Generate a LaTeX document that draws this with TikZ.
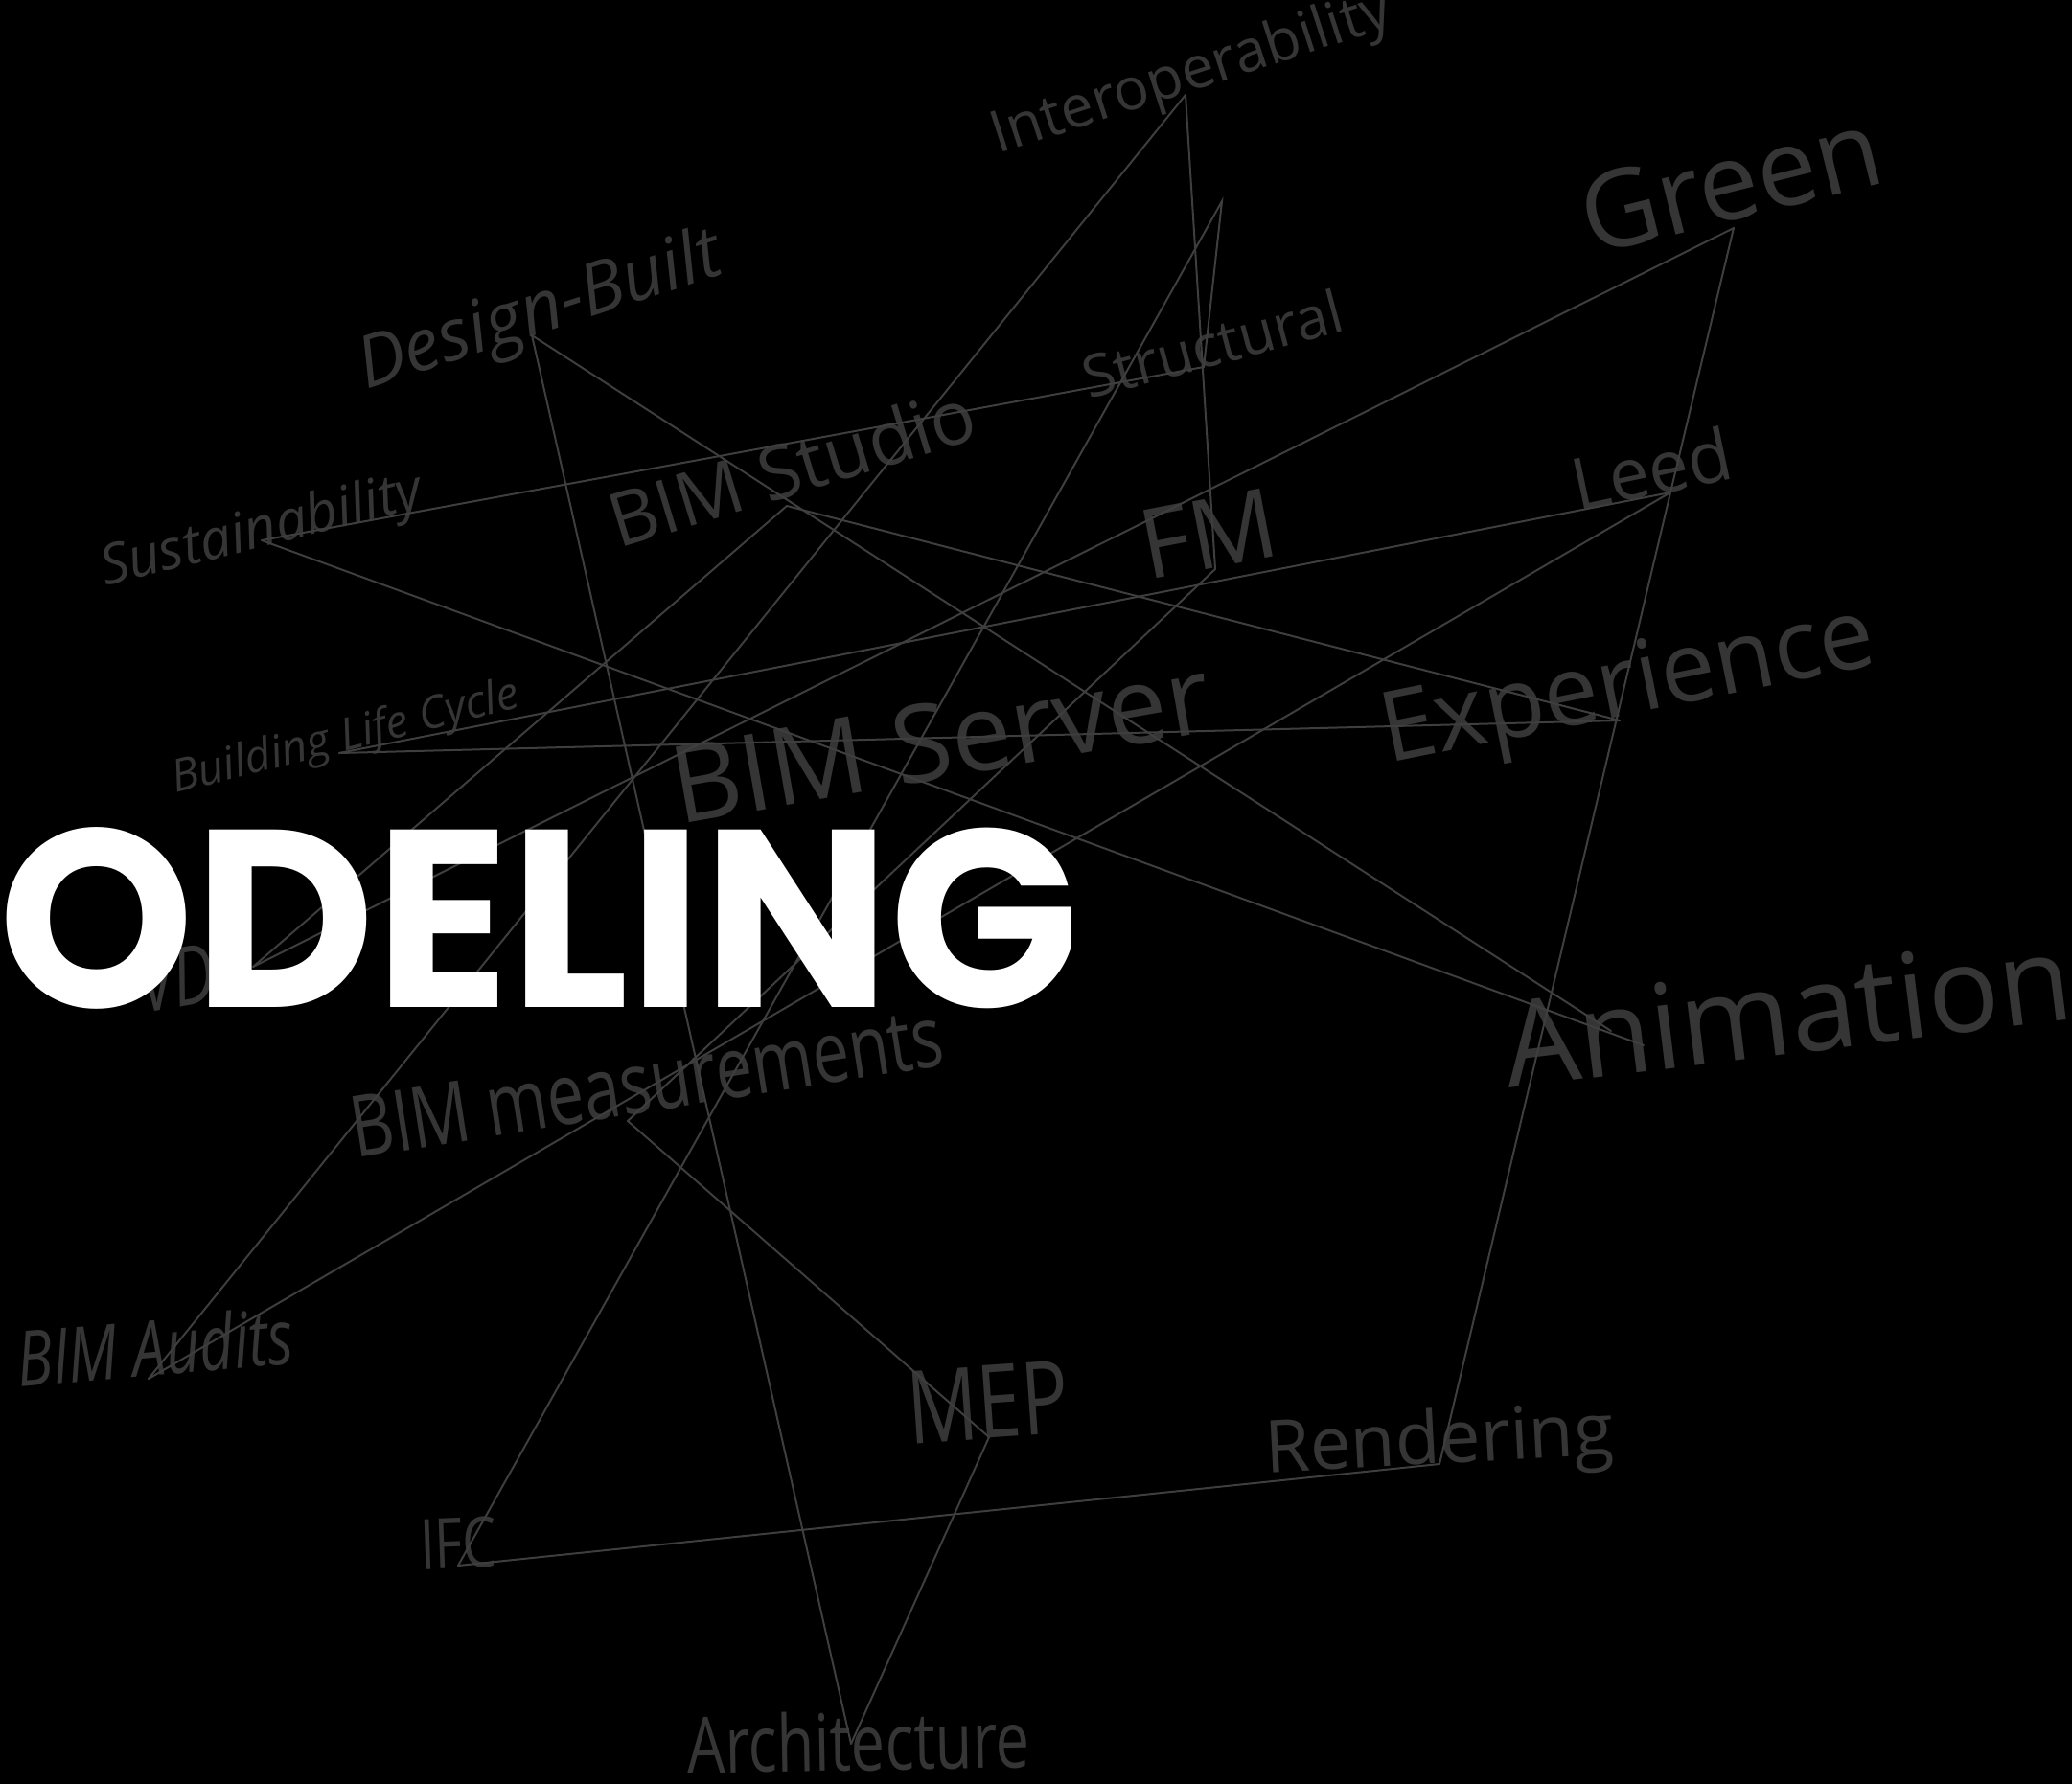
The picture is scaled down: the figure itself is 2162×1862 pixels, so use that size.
\documentclass[tikz,border=0pt]{standalone}
\usepackage{fontspec}
\setmainfont{Open Sans}
\newfontfamily\condfont[FakeStretch=0.77]{Open Sans}
\newfontfamily\titlefont{Poppins}
\definecolor{labelgrey}{RGB}{53,53,53}
\definecolor{wiregrey}{RGB}{62,62,62}

\begin{document}
\begin{tikzpicture}[x=1pt, y=-1pt,
    word/.style={text=labelgrey, inner sep=0pt, anchor=base west},
    wire/.style={draw=wiregrey, line width=2pt, line cap=round}
]
    \useasboundingbox (0,0) rectangle (2162,1862);
    \fill[black] (0,0) rectangle (2162,1862);
    \clip (0,0) rectangle (2162,1862);

    % terms
    \node[word, rotate=18, font=\fontsize{61}{66}\selectfont] (t-interop) at (1041,161) {Interoperability};
    \node[word, rotate=18, font=\itshape\fontsize{75}{80}\selectfont] (t-design) at (382,407) {Design-Built};
    \node[word, rotate=14, font=\itshape\fontsize{58}{62}\selectfont] (t-sustain) at (110,612) {Sustainability};
    \node[word, rotate=14, font=\itshape\fontsize{47}{50}\selectfont] (t-life) at (183,828) {Building Life Cycle};
    \node[word, rotate=15, font=\fontsize{61}{66}\selectfont] (t-struct) at (1136,417) {Structural};
    \node[word, rotate=17, font=\fontsize{78}{84}\selectfont] (t-studio) at (645,573) {BIM Studio};
    \node[word, rotate=11, font=\fontsize{101}{106}\selectfont] (t-fm) at (1197,606) {FM};
    \node[word, rotate=14, font=\fontsize{112}{118}\selectfont] (t-green) at (1660,267) {Green};
    \node[word, rotate=12, font=\fontsize{75}{80}\selectfont] (t-leed) at (1646,534) {Leed};
    \node[word, rotate=11.5, font=\fontsize{102}{108}\selectfont] (t-exp) at (1448,797) {Experience};
    \node[word, rotate=10, font=\fontsize{112}{118}\selectfont] (t-server) at (708,861) {BIM Server};
    \node[word, rotate=7, font=\fontsize{124}{130}\selectfont] (t-anim) at (1574,1136) {Animation};
    \node[word, rotate=3, font=\fontsize{76}{80}\selectfont] (t-render) at (1321,1537) {Rendering};
    \node[word, rotate=4, font=\condfont\fontsize{106}{110}\selectfont] (t-mep) at (949,1507) {MEP};
    \node[word, rotate=9, font=\condfont\fontsize{89}{94}\selectfont] (t-meas) at (371,1209) {BIM measurements};
    \node[word, rotate=5, font=\condfont\itshape\fontsize{80}{84}\selectfont] (t-audit) at (20,1448) {BIM Audits};
    \node[word, rotate=2, font=\condfont\fontsize{73}{78}\selectfont] (t-ifc) at (439,1638) {IFC};
    \node[word, rotate=1, font=\condfont\fontsize{82}{86}\selectfont] (t-arch) at (717,1851) {Architecture};
    \node[word, rotate=10, font=\condfont\itshape\fontsize{85}{90}\selectfont] (t-vdc) at (150,1058) {VDC};

    % hubs
    \coordinate (h-interop) at (1237,99);
    \coordinate (h-spike) at (1275,210);
    \coordinate (h-struct) at (1256,383);
    \coordinate (h-sustain) at (273,564);
    \coordinate (h-design) at (555,350);
    \coordinate (h-studio) at (821,528);
    \coordinate (h-life) at (354,786);
    \coordinate (h-fm) at (1268,594);
    \coordinate (h-green) at (1809,238);
    \coordinate (h-leed) at (1743,514);
    \coordinate (h-exp) at (1690,752);
    \coordinate (h-animA) at (1681,1076);
    \coordinate (h-animB) at (1715,1091);
    \coordinate (h-render) at (1502,1528);
    \coordinate (h-ifc) at (478,1634);
    \coordinate (h-arch) at (888,1820);
    \coordinate (h-mep) at (1032,1500);
    \coordinate (h-meas) at (655,1170);
    \coordinate (h-audit) at (155,1439);
    \coordinate (h-vdc) at (264,1009);

    % links
    \draw[wire] (h-interop) -- (h-fm);
    \draw[wire] (h-interop) -- (h-audit);
    \draw[wire] (h-ifc) -- (h-spike) -- (h-struct) -- (h-sustain);
    \draw[wire] (h-sustain) -- (h-animB);
    \draw[wire] (h-design) -- (h-animA);
    \draw[wire] (h-design) -- (h-arch);
    \draw[wire] (h-vdc) -- (h-studio) -- (h-exp);
    \draw[wire] (h-green) -- (h-vdc);
    \draw[wire] (h-green) -- (h-leed) -- (h-render);
    \draw[wire] (h-leed) -- (h-life);
    \draw[wire] (h-leed) -- (h-audit);
    \draw[wire] (h-life) -- (h-exp);
    \draw[wire] (h-fm) -- (h-meas) -- (h-mep) -- (h-arch);
    \draw[wire] (h-render) -- (h-ifc);

    % title
    \node[anchor=base west, text=white, inner sep=0pt,
        font=\titlefont\bfseries\fontsize{264}{270}\selectfont] (title) at (-2,1051) {\scalebox{0.985}[1]{ODELING}};
\end{tikzpicture}
\end{document}
